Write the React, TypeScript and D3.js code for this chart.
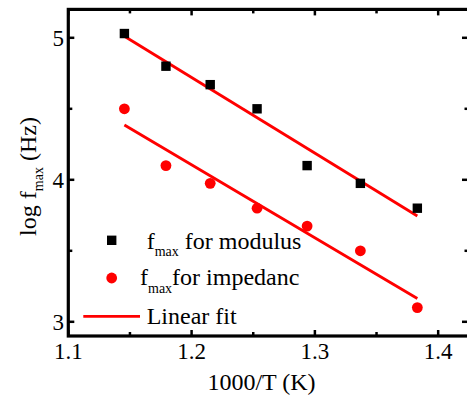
import React from "react";
import * as d3 from "d3";

const invT = [1.1455, 1.1792, 1.2151, 1.2531, 1.2937, 1.3369, 1.3831];
const logModulus = [5.03, 4.8, 4.67, 4.5, 4.1, 3.975, 3.8];
const logImpedance = [4.5, 4.1, 3.975, 3.8, 3.674, 3.5, 3.1];
const xMajor = [1.1, 1.2, 1.3, 1.4];
const xMinor = [1.15, 1.25, 1.35];
const yMajor = [3, 4, 5];
const yMinor = [3.5, 4.5];
const xTickLabels = ["1.1", "1.2", "1.3", "1.4"];
const yTickLabels = ["3", "4", "5"];

const W = 467;
const H = 402;
const FONT = '"Liberation Serif", "Times New Roman", Times, "DejaVu Serif", serif';

function fit(xs: number[], ys: number[]) {
  const mx = d3.mean(xs)!;
  const my = d3.mean(ys)!;
  let sxy = 0, sxx = 0;
  xs.forEach((x, i) => {
    sxy += (x - mx) * (ys[i] - my);
    sxx += (x - mx) * (x - mx);
  });
  const slope = sxy / sxx;
  const icpt = my - slope * mx;
  const x0 = d3.min(xs)!;
  const x1 = d3.max(xs)!;
  return [
    [x0, icpt + slope * x0],
    [x1, icpt + slope * x1],
  ] as [number, number][];
}

export default function App() {
  const x = d3.scaleLinear().domain([1.1, 1.425]).range([68.3, 469]);
  const y = d3.scaleLinear().domain([2.9, 5.2]).range([336, 9.4]);
  const line = d3
    .line<[number, number]>()
    .x((d) => x(d[0]))
    .y((d) => y(d[1]));
  const fitM = fit(invT, logModulus);
  const fitI = fit(invT, logImpedance);
  const x0 = x.range()[0];
  const x1 = x.range()[1];
  const y0 = y.range()[0];
  const y1 = y.range()[1];
  const tickW = 2.5;
  const ts = { fontFamily: FONT } as React.CSSProperties;

  return (
    <svg
      width={W}
      height={H}
      style={{ position: "absolute", left: 0, top: 0, background: "#fff", fontFamily: FONT }}
    >
      <rect x={0} y={0} width={W} height={H} fill="#fff" />
      {/* fit lines */}
      <path d={line(fitM)!} stroke="#ff0000" strokeWidth={2.8} fill="none" />
      <path d={line(fitI)!} stroke="#ff0000" strokeWidth={2.8} fill="none" />
      {/* points */}
      {invT.map((v, i) => (
        <rect
          key={"m" + i}
          x={x(v) - 4.7}
          y={y(logModulus[i]) - 4.7}
          width={9.4}
          height={9.4}
          fill="#000"
        />
      ))}
      {invT.map((v, i) => (
        <circle key={"i" + i} cx={x(v)} cy={y(logImpedance[i])} r={5.4} fill="#ff0000" />
      ))}
      {/* ticks */}
      {xMajor.map((v) => (
        <g key={"xM" + v}>
          <line x1={x(v)} x2={x(v)} y1={y0} y2={y0 - 6} stroke="#000" strokeWidth={tickW} />
          <line x1={x(v)} x2={x(v)} y1={y1} y2={y1 + 6} stroke="#000" strokeWidth={tickW} />
        </g>
      ))}
      {xMinor.map((v) => (
        <g key={"xm" + v}>
          <line x1={x(v)} x2={x(v)} y1={y0} y2={y0 - 4} stroke="#000" strokeWidth={tickW} />
          <line x1={x(v)} x2={x(v)} y1={y1} y2={y1 + 4} stroke="#000" strokeWidth={tickW} />
        </g>
      ))}
      {yMajor.map((v) => (
        <g key={"yM" + v}>
          <line x1={x0} x2={x0 + 6} y1={y(v)} y2={y(v)} stroke="#000" strokeWidth={tickW} />
          <line x1={x1} x2={x1 - 7} y1={y(v)} y2={y(v)} stroke="#000" strokeWidth={tickW} />
        </g>
      ))}
      {yMinor.map((v) => (
        <g key={"ym" + v}>
          <line x1={x0} x2={x0 + 4} y1={y(v)} y2={y(v)} stroke="#000" strokeWidth={tickW} />
          <line x1={x1} x2={x1 - 4.5} y1={y(v)} y2={y(v)} stroke="#000" strokeWidth={tickW} />
        </g>
      ))}
      {/* frame */}
      <rect x={x0} y={y1} width={x1 - x0} height={y0 - y1} fill="none" stroke="#000" strokeWidth={3.2} />
      {/* tick labels */}
      {xMajor.map((v, i) => (
        <text key={"xl" + v} style={ts} x={x(v)} y={359} textAnchor="middle" fontSize={23} fill="#000">
          {xTickLabels[i]}
        </text>
      ))}
      {yMajor.map((v, i) => (
        <text key={"yl" + v} style={ts} x={64} y={y(v) + 8.5} textAnchor="end" fontSize={23} fill="#000">
          {yTickLabels[i]}
        </text>
      ))}
      {/* axis titles */}
      <text style={ts} x={261.5} y={390} textAnchor="middle" fontSize={24} fill="#000">
        1000/T (K)
      </text>
      <text
        style={ts}
        transform={`translate(36,176.5) rotate(-90)`}
        textAnchor="middle"
        fontSize={24}
        fill="#000"
      >
        <tspan>log f</tspan>
        <tspan fontSize={14} dy={7}>max</tspan>
        <tspan dy={-7}> (Hz)</tspan>
      </text>
      {/* legend */}
      <rect x={111.7 - 4.7} y={240.3 - 4.7} width={9.4} height={9.4} fill="#000" />
      <text style={ts} x={146.7} y={248.7} fontSize={24} fill="#000">
        <tspan>f</tspan>
        <tspan fontSize={14} dy={7.6}>max</tspan>
        <tspan dy={-7.6}> for modulus</tspan>
      </text>
      <circle cx={111.7} cy={278} r={5.4} fill="#ff0000" />
      <text style={ts} x={140} y={285.3} fontSize={24} fill="#000">
        <tspan>f</tspan>
        <tspan fontSize={14} dy={7.6}>max</tspan>
        <tspan dy={-7.6}>for impedanc</tspan>
      </text>
      <line x1={83.3} x2={140} y1={316.3} y2={316.3} stroke="#ff0000" strokeWidth={2.8} />
      <text style={ts} x={146.7} y={323.7} fontSize={24} fill="#000">
        Linear fit
      </text>
    </svg>
  );
}
